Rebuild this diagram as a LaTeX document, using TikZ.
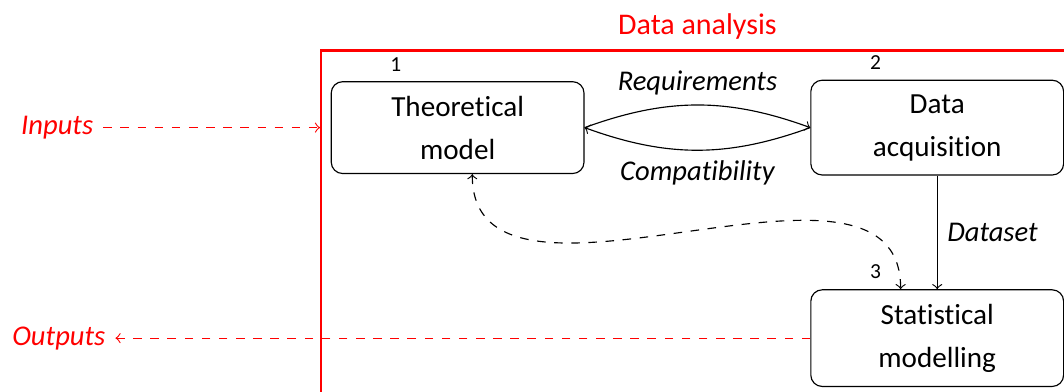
\documentclass[tikz,border=0pt]{standalone}
\usepackage{fontspec}
\setmainfont{Carlito}[Ligatures=NoCommon]
\usetikzlibrary{fit}
\colorlet{frame edge}{red}
\colorlet{box edge}{black}
\tikzset{box/.style={draw=box edge, rounded corners, align=center, minimum width=3.11cm,
        inner ysep=5pt, font=\fontsize{10.2}{15}\selectfont},
    numbered/.style={label={[font=\fontsize{7.5}{9}\selectfont, xshift=-0.76cm]above:#1}},
    flow/.style={font=\fontsize{10}{12}\selectfont\itshape},
    frame/.style={draw=frame edge, thick, inner xsep=3.3pt, inner ysep=10.2pt},
    io/.style={text=frame edge, font=\fontsize{10}{12}\selectfont\itshape},
    ioline/.style={draw=frame edge, dashed, ->}}

\begin{document}
\begin{tikzpicture}
    \path[use as bounding box, clip] (0,0) rectangle (13.09,4.82);
    \node[box, numbered=1] (theo) at (5.63, 3.25) {Theoretical\\model};
    \node[box, numbered=2] (acq)  at (11.53,3.25) {Data\\acquisition};
    \node[box, numbered=3] (stat) at (11.53,0.66) {Statistical\\modelling};
    \node[frame, fit=(theo)(acq)(stat),
        label={[text=frame edge, font=\fontsize{10.5}{12}\selectfont]above:Data analysis}] (frame) {};
    \node[io, anchor=east] (inputs)  at (1.27, 3.25) {Inputs};
    \node[io, anchor=east] (outputs) at (1.42, 0.66) {Outputs};
    \draw[->] (theo.east) to[bend left=20] node[flow, above] {Requirements} (acq.west);
    \draw[->] (acq.west) to[bend left=20] node[flow, below] {Compatibility} (theo.east);
    \draw[->] (acq) -- node[flow, right] {Dataset} (stat);
    \draw[dashed, <->] ([xshift=0.18cm]theo.south) to[out=-90, in=90] ([xshift=-0.45cm]stat.north);
    \draw[ioline] (inputs) -- (inputs -| frame.west);
    \draw[ioline] (stat) -- (outputs);
\end{tikzpicture}
\end{document}
